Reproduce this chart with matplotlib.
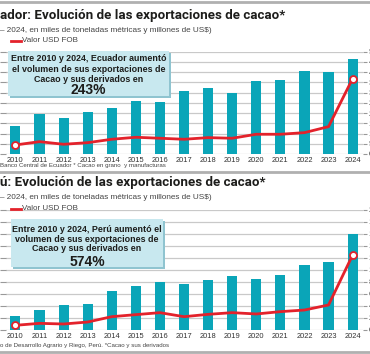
import matplotlib
matplotlib.use("Agg")
import matplotlib.pyplot as plt
from matplotlib.patches import Rectangle
from matplotlib.lines import Line2D

plt.rcParams['font.family'] = ['Liberation Sans', 'DejaVu Sans']

W, H = 370, 354

years = list(range(2010, 2025))
year_labels = [str(y) for y in years]

# Ecuador: miles de t (barras) y millones de US$ (linea)
ecu_volume = [137, 195, 175, 203, 225, 260, 253, 310, 325, 300, 356, 363, 408, 400, 464]
ecu_value = [441, 603, 475, 554, 720, 818, 770, 720, 800, 770, 965, 965, 1044, 1338, 3690]

# Peru
peru_volume = [23, 33, 41, 44, 65, 73, 80, 77, 83, 90, 85, 92, 108, 113, 160]
peru_value = [78, 111, 100, 133, 222, 256, 289, 222, 261, 289, 267, 306, 333, 417, 1250]

TEAL = '#0aa5b8'
RED = '#e3222b'
GRID = '#c9c9c9'
DARK = '#1d1d1b'
GREY = '#444444'
BOX = '#c8e8ef'
SHADOW = '#8fc4d0'

fig = plt.figure(figsize=(W / 100, H / 100), dpi=100)


def fx(px):
    return px / W


def fy(py):
    return 1 - py / H


def hline(y, color='#b0b0b0', lw=2.0):
    fig.add_artist(Line2D([0, 1], [fy(y), fy(y)], color=color, lw=lw))


def chart(top, bottom, volume, value, vmax, vstep, mmax, mstep,
          title, subtitle, legend_y, title_y, box, box_lines, box_text_y, pct, pct_y,
          source, source_y):
    # encabezado
    fig.text(0, fy(title_y), title, fontsize=9.6, fontweight='bold', color=DARK,
             family=['Roboto', 'DejaVu Sans'], va='center', ha='left')
    fig.text(0, fy(title_y + 15), subtitle, fontsize=5.9, color=GREY, va='center', ha='left')
    fig.add_artist(Line2D([fx(11), fx(21)], [fy(legend_y), fy(legend_y)], color=RED, lw=2))
    fig.text(fx(22.5), fy(legend_y), 'Valor USD FOB', fontsize=5.8, color=GREY,
             va='center', ha='left')

    ax = fig.add_axes([fx(6), fy(bottom), fx(363 - 6), (bottom - top) / H])
    ax.bar(years, volume, width=0.42, color=TEAL, zorder=2)
    ax.set_xlim(2010 - 0.39, 2024 + 0.43)
    ax.set_ylim(0, vmax)
    ax.set_yticks(range(0, vmax + 1, vstep))
    ax.set_yticklabels([])
    ax.grid(axis='y', color=GRID, lw=0.9, zorder=0)
    ax.set_axisbelow(True)
    ax.set_xticks(years)
    ax.set_xticklabels(year_labels, fontsize=5.4, color='#333333')
    ax.tick_params(axis='x', length=0, pad=2)
    ax.tick_params(axis='y', length=4, color='#999999', width=0.8)
    for s in ax.spines.values():
        s.set_visible(False)

    ax2 = ax.twinx()
    ax2.plot(years, value, color=RED, lw=2, zorder=3,
             marker='o', markevery=[0, len(years) - 1], markersize=5,
             markerfacecolor='white', markeredgecolor=RED, markeredgewidth=1.3)
    ax2.set_ylim(0, mmax)
    ax2.set_yticks(range(0, mmax + 1, mstep))
    ax2.tick_params(axis='y', length=3, color='#999999', width=0.8, labelsize=5.8,
                    labelcolor=GREY, pad=1)
    for s in ax2.spines.values():
        s.set_visible(False)

    # recuadro de texto
    x0, y0, x1, y1 = box
    fig.add_artist(Rectangle((fx(x0 + 1.5), fy(y1 + 1.5)), fx(x1 - x0), (y1 - y0) / H,
                             facecolor=SHADOW, edgecolor='none', zorder=5))
    fig.add_artist(Rectangle((fx(x0), fy(y1)), fx(x1 - x0), (y1 - y0) / H,
                             facecolor=BOX, edgecolor='none', zorder=6))
    cx = fx((x0 + x1) / 2)
    for line, ly in zip(box_lines, box_text_y):
        fig.text(cx, fy(ly), line, fontsize=6.4, fontweight='bold', color=DARK,
                 ha='center', va='center', zorder=7)
    fig.text(cx, fy(pct_y), pct, fontsize=10, fontweight='bold', color=DARK,
             ha='center', va='center', zorder=7)

    fig.text(0, fy(source_y), source, fontsize=4.4, color=GREY, va='center', ha='left')


hline(2)
chart(51.7, 154, ecu_volume, ecu_value, 500, 50, 5000, 500,
      'ador: Evolución de las exportaciones de cacao*',
      '– 2024, en miles de toneladas métricas y millones de US$)',
      41, 15,
      (8, 51, 169, 96),
      ['Entre 2010 y 2024, Ecuador aumentó', 'el volumen de sus exportaciones de',
       'Cacao y sus derivados en'],
      [58.5, 69, 79.5], '243%', 90,
      'Banco Central de Ecuador * Cacao en grano  y manufacturas', 166)
hline(172)
chart(210, 330, peru_volume, peru_value, 200, 20, 2000, 200,
      'ú: Evolución de las exportaciones de cacao*',
      '– 2024, en miles de toneladas métricas y millones de US$)',
      208.5, 182.5,
      (11, 219, 163, 267),
      ['Entre 2010 y 2024, Perú aumentó el', 'volumen de sus exportaciones de',
       'Cacao y sus derivados en'],
      [230, 239.5, 248.5], '574%', 262,
      'o de Desarrollo Agrario y Riego, Perú. *Cacao y sus derivados', 346)
hline(352)

fig.savefig('out.png', dpi=100)
